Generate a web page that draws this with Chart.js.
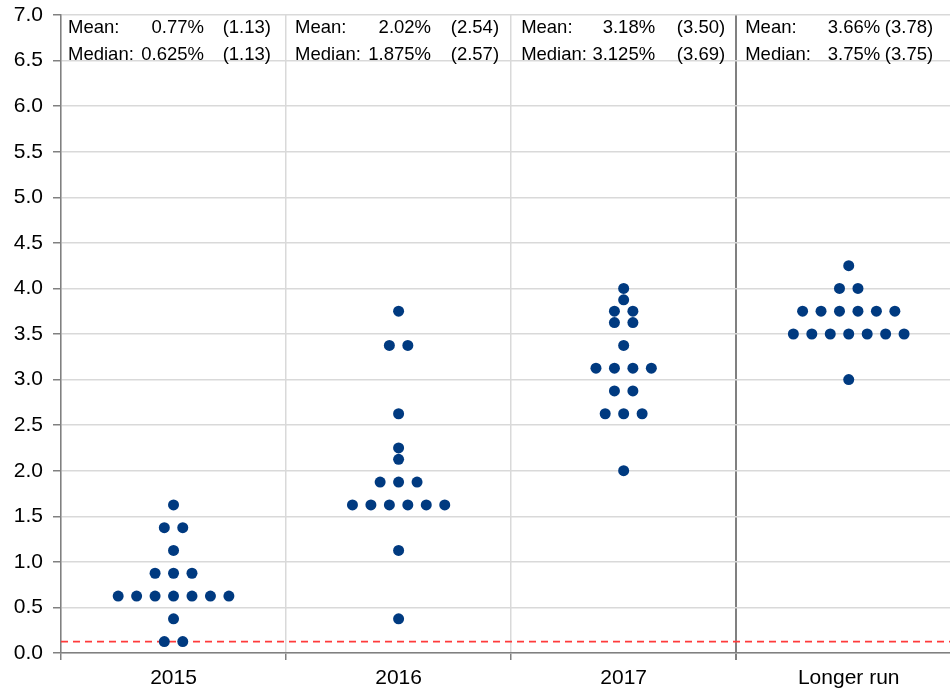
<!DOCTYPE html>
<html>
<head>
<meta charset="utf-8">
<script src="https://cdn.jsdelivr.net/npm/chart.js@4"></script>
<style>
  html, body { margin: 0; padding: 0; background: #fff; overflow: hidden; }
  #wrap { width: 950px; height: 688px; }
</style>
</head>
<body>
<div id="wrap"><canvas id="dotPlot"></canvas></div>
<script>
// FOMC participants' projections of the target rate (one entry per dot)
const categories = ['2015', '2016', '2017', 'Longer run'];
const dots2015 = [0.125, 0.125, 0.375, 0.625, 0.625, 0.625, 0.625, 0.625, 0.625, 0.625,
                  0.875, 0.875, 0.875, 1.125, 1.375, 1.375, 1.625];
const dots2016 = [0.375, 1.125, 1.625, 1.625, 1.625, 1.625, 1.625, 1.625, 1.875, 1.875,
                  1.875, 2.125, 2.25, 2.625, 3.375, 3.375, 3.75];
const dots2017 = [2.0, 2.625, 2.625, 2.625, 2.875, 2.875, 3.125, 3.125, 3.125, 3.125,
                  3.375, 3.625, 3.625, 3.75, 3.75, 3.875, 4.0];
const dotsLonger = [3.0, 3.5, 3.5, 3.5, 3.5, 3.5, 3.5, 3.5, 3.75, 3.75,
                    3.75, 3.75, 3.75, 3.75, 4.0, 4.0, 4.25];

const means = ['0.77%', '2.02%', '3.18%', '3.66%'];
const meansPrev = ['(1.13)', '(2.54)', '(3.50)', '(3.78)'];
const medians = ['0.625%', '1.875%', '3.125%', '3.75%'];
const mediansPrev = ['(1.13)', '(2.57)', '(3.69)', '(3.75)'];
const zeroBound = 0.125;

const DOT_GAP = 0.082;  // horizontal gap between dots sharing a value (category units)
const FONT = '"Liberation Sans", Arial, sans-serif';

function spreadDots(values, cat) {
  const counts = {};
  values.forEach(v => { counts[v] = (counts[v] || 0) + 1; });
  const pts = [];
  Object.keys(counts).forEach(k => {
    const n = counts[k];
    for (let i = 0; i < n; i++) {
      pts.push({ x: cat + (i - (n - 1) / 2) * DOT_GAP, y: Number(k) });
    }
  });
  return pts;
}

const allDots = [dots2015, dots2016, dots2017, dotsLonger]
  .map((vals, i) => spreadDots(vals, i)).flat();

// text columns inside each panel (px from the panel's left edge)
const textLeft = [7, 9, 10, 9];
const valueRight = [143, 145, 144, 144];
const parenRight = [210, 213, 214, 197];

const panelText = {
  id: 'panelText',
  beforeDatasetsDraw(chart) {
    const { ctx, chartArea, scales } = chart;
    const y = scales.y.getPixelForValue(zeroBound);
    ctx.save();
    ctx.strokeStyle = '#ff3b3b';
    ctx.lineWidth = 1.8;
    ctx.setLineDash([7, 5]);
    ctx.beginPath();
    ctx.moveTo(chartArea.left, y);
    ctx.lineTo(chartArea.right, y);
    ctx.stroke();
    ctx.restore();
  },
  afterDraw(chart) {
    const { ctx, scales } = chart;
    ctx.save();
    ctx.font = '18.5px ' + FONT;
    ctx.fillStyle = '#000';
    ctx.textBaseline = 'alphabetic';
    categories.forEach((c, i) => {
      const left = scales.x.getPixelForValue(i - 0.5);
      const rows = [['Mean:', means[i], meansPrev[i], 33], ['Median:', medians[i], mediansPrev[i], 60]];
      rows.forEach(r => {
        ctx.textAlign = 'left';
        ctx.fillText(r[0], left + textLeft[i], r[3]);
        ctx.textAlign = 'right';
        ctx.fillText(r[1], left + valueRight[i], r[3]);
        ctx.fillText(r[2], left + parenRight[i], r[3]);
      });
    });
    ctx.restore();
  }
};

new Chart(document.getElementById('dotPlot'), {
  type: 'scatter',
  data: {
    datasets: [{
      label: 'Projections',
      data: allDots,
      backgroundColor: '#003a80',
      borderWidth: 0,
      pointRadius: 5.5,
      pointHoverRadius: 5.5
    }]
  },
  options: {
    responsive: true,
    maintainAspectRatio: false,
    animation: false,
    layout: { autoPadding: false, padding: { top: 15, right: 0, left: 0, bottom: 0 } },
    plugins: {
      legend: { display: false },
      tooltip: { enabled: false }
    },
    scales: {
      x: {
        type: 'linear',
        min: -0.5,
        max: 3.45,
        afterBuildTicks: scale => {
          scale.ticks = [-0.5, 0, 0.5, 1, 1.5, 2, 2.5, 3].map(v => ({ value: v }));
        },
        afterFit: scale => {
          scale.height = 35;
          scale.paddingLeft = 0;
          scale.paddingRight = 0;
        },
        ticks: {
          autoSkip: false,
          maxRotation: 0,
          padding: 6,
          color: '#000',
          font: { size: 21, family: FONT },
          callback: v => Number.isInteger(v) ? categories[v] : ''
        },
        grid: {
          color: c => c.tick && c.tick.value === 2.5 ? '#808080'
            : (c.tick && Number.isInteger(c.tick.value) ? 'rgba(0,0,0,0)' : '#d9d9d9'),
          lineWidth: c => c.tick && c.tick.value === 2.5 ? 2 : 1.5,
          tickColor: c => c.tick && Number.isInteger(c.tick.value) ? 'rgba(0,0,0,0)' : '#808080',
          tickLength: 7
        },
        border: { color: '#808080', width: 1.5 }
      },
      y: {
        min: 0,
        max: 7,
        afterFit: scale => {
          scale.width = 61;
          scale.paddingTop = 0;
          scale.paddingBottom = 0;
        },
        ticks: {
          stepSize: 0.5,
          padding: 10,
          color: '#000',
          font: { size: 21, family: FONT },
          callback: v => v.toFixed(1)
        },
        grid: {
          color: '#d9d9d9',
          lineWidth: 1.5,
          tickColor: '#808080',
          tickLength: 8
        },
        border: { color: '#808080', width: 1.5 }
      }
    }
  },
  plugins: [panelText]
});
</script>
</body>
</html>
